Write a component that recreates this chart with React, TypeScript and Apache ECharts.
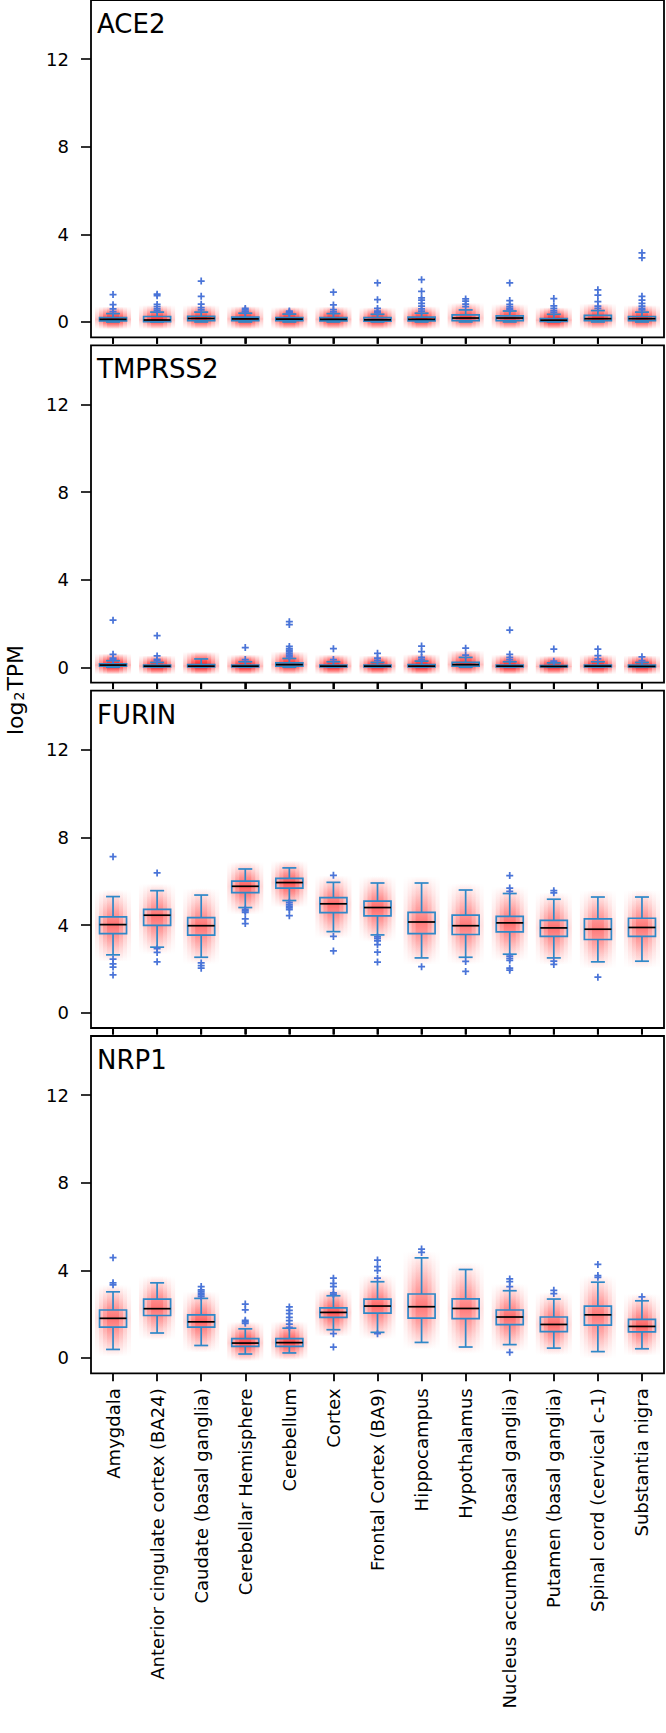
import React, { useEffect, useRef } from "react";
import * as echarts from "echarts";

const tissues = [
  "Amygdala",
  "Anterior cingulate cortex (BA24)",
  "Caudate (basal ganglia)",
  "Cerebellar Hemisphere",
  "Cerebellum",
  "Cortex",
  "Frontal Cortex (BA9)",
  "Hippocampus",
  "Hypothalamus",
  "Nucleus accumbens (basal ganglia)",
  "Putamen (basal ganglia)",
  "Spinal cord (cervical c-1)",
  "Substantia nigra",
];

const genes = ["ACE2", "TMPRSS2", "FURIN", "NRP1"];

const yTicks = [0, 4, 8, 12];
const yMin = -0.7;
const yMax = 14.7;

// box stats per tissue: [low whisker, Q1, median, Q3, high whisker]
const ace2Box = [
  [0.0, 0.05, 0.12, 0.2, 0.38],
  [0.0, 0.02, 0.09, 0.25, 0.45],
  [0.0, 0.06, 0.16, 0.26, 0.45],
  [0.0, 0.06, 0.14, 0.22, 0.4],
  [0.0, 0.06, 0.13, 0.2, 0.36],
  [0.0, 0.05, 0.12, 0.2, 0.38],
  [0.0, 0.04, 0.1, 0.2, 0.35],
  [0.0, 0.05, 0.12, 0.22, 0.4],
  [0.0, 0.06, 0.18, 0.32, 0.55],
  [0.0, 0.06, 0.18, 0.28, 0.5],
  [0.0, 0.03, 0.08, 0.15, 0.35],
  [0.0, 0.06, 0.15, 0.3, 0.52],
  [0.0, 0.06, 0.15, 0.25, 0.45],
];
const ace2Out = [
  [1.25, 0.79, 0.6, 0.47],
  [1.27, 1.2, 0.8, 0.7, 0.6, 0.52],
  [1.87, 1.17, 0.81, 0.66, 0.55],
  [0.62, 0.56, 0.5, 0.46],
  [0.5, 0.45, 0.41],
  [1.36, 0.78, 0.56, 0.46],
  [1.78, 1.02, 0.62, 0.5, 0.42],
  [1.93, 1.4, 1.1, 1.0, 0.85, 0.72, 0.6, 0.5],
  [1.05, 0.95, 0.82, 0.7],
  [1.78, 0.98, 0.8, 0.7, 0.62, 0.56],
  [1.07, 0.74, 0.62, 0.52, 0.44],
  [1.47, 1.22, 0.93, 0.72, 0.62],
  [3.16, 2.93, 1.17, 1.0, 0.85, 0.72, 0.62, 0.55],
];

const tmprss2Box = [
  [0.0, 0.05, 0.1, 0.16, 0.3],
  [0.0, 0.02, 0.05, 0.1, 0.22],
  [0.0, 0.02, 0.05, 0.12, 0.38],
  [0.0, 0.02, 0.05, 0.1, 0.25],
  [0.0, 0.05, 0.12, 0.2, 0.4],
  [0.0, 0.02, 0.05, 0.1, 0.25],
  [0.0, 0.02, 0.05, 0.1, 0.22],
  [0.0, 0.02, 0.05, 0.12, 0.28],
  [0.0, 0.05, 0.12, 0.22, 0.45],
  [0.0, 0.02, 0.05, 0.1, 0.25],
  [0.0, 0.02, 0.04, 0.08, 0.2],
  [0.0, 0.02, 0.05, 0.1, 0.25],
  [0.0, 0.02, 0.04, 0.1, 0.22],
];
const tmprss2Out = [
  [2.15, 0.59, 0.42, 0.35],
  [1.44, 0.52, 0.36, 0.3],
  [],
  [0.9, 0.35],
  [2.08, 1.95, 0.95, 0.85, 0.78, 0.7, 0.62, 0.55, 0.48],
  [0.85, 0.35],
  [0.64, 0.42, 0.32],
  [0.97, 0.71, 0.45, 0.36],
  [0.87, 0.55],
  [1.7, 0.59, 0.45, 0.35],
  [0.83, 0.28],
  [0.83, 0.53, 0.38],
  [0.48, 0.3],
];

const furinBox = [
  [2.64, 3.61, 4.02, 4.37, 5.3],
  [2.99, 3.99, 4.45, 4.72, 5.57],
  [2.53, 3.54, 3.97, 4.34, 5.37],
  [4.8, 5.48, 5.77, 6.01, 6.56],
  [5.12, 5.69, 5.94, 6.13, 6.61],
  [3.7, 4.57, 4.97, 5.25, 5.95],
  [3.55, 4.42, 4.8, 5.09, 5.92],
  [2.5, 3.61, 4.14, 4.58, 5.92],
  [2.53, 3.57, 3.97, 4.45, 5.6],
  [2.67, 3.69, 4.1, 4.4, 5.44],
  [2.5, 3.48, 3.87, 4.21, 5.18],
  [2.32, 3.34, 3.81, 4.28, 5.28],
  [2.35, 3.48, 3.89, 4.31, 5.28],
];
const furinOut = [
  [7.12, 2.45, 2.23, 2.08, 1.72],
  [6.38, 2.92, 2.75, 2.32],
  [2.27, 2.15, 2.03],
  [4.72, 4.65, 4.58, 4.28, 4.07],
  [5.04, 4.95, 4.86, 4.78, 4.71, 4.43],
  [6.27, 3.48, 2.82],
  [3.46, 3.38, 3.28, 3.11, 2.76, 2.31],
  [2.1],
  [2.34, 1.88],
  [6.26, 5.69, 5.54, 2.58, 2.48, 2.39, 2.03, 1.94],
  [5.57, 5.47, 2.35, 2.2],
  [1.62],
  [],
];

const nrp1Box = [
  [0.39, 1.41, 1.81, 2.19, 3.02],
  [1.14, 1.94, 2.25, 2.69, 3.43],
  [0.57, 1.41, 1.65, 1.97, 2.72],
  [0.18, 0.53, 0.68, 0.88, 1.33],
  [0.23, 0.53, 0.7, 0.88, 1.36],
  [1.29, 1.85, 2.08, 2.29, 2.84],
  [1.17, 2.05, 2.37, 2.69, 3.48],
  [0.71, 1.82, 2.34, 2.92, 4.57],
  [0.5, 1.8, 2.26, 2.7, 4.04],
  [0.61, 1.52, 1.87, 2.19, 3.07],
  [0.45, 1.2, 1.53, 1.87, 2.69],
  [0.29, 1.5, 1.97, 2.37, 3.46],
  [0.42, 1.19, 1.44, 1.76, 2.61],
];
const nrp1Out = [
  [4.58, 3.43, 3.34],
  [],
  [3.26, 3.11, 3.04, 2.96, 2.88, 2.8],
  [2.46, 2.2, 1.72, 1.65, 1.58],
  [2.33, 2.17, 2.02, 1.85, 1.7, 1.55, 1.4],
  [3.64, 3.41, 3.26, 2.97, 2.9, 1.11, 0.5],
  [4.47, 4.17, 3.99, 3.64, 1.11],
  [4.97, 4.82],
  [],
  [3.61, 3.49, 3.26, 0.26],
  [3.09, 2.94],
  [4.27, 3.76, 3.68],
  [2.79],
];

const boxSets = [ace2Box, tmprss2Box, furinBox, nrp1Box];
const outSets = [ace2Out, tmprss2Out, furinOut, nrp1Out];

const FONT = "DejaVu Sans";
const BOX_BLUE = "#2f88c8";
const OUT_BLUE = "#4a74d8";
const PLUS = "path://M3,0H5V3H8V5H5V8H3V5H0V3H3Z";

// vertical density gradient for the jittered-sample cloud, built from box stats
function columnGradient(top: number, bottom: number, yQ3: number, yMed: number, yQ1: number, a: number) {
  const h = Math.max(bottom - top, 1);
  const f = (v: number) => Math.min(1, Math.max(0, (v - top) / h));
  const c = (al: number) => `rgba(255,0,0,${Math.min(0.95, al).toFixed(3)})`;
  return {
    type: "linear",
    x: 0,
    y: 0,
    x2: 0,
    y2: 1,
    colorStops: [
      { offset: 0, color: c(0) },
      { offset: f(yQ3) * 0.5, color: c(a * 0.35) },
      { offset: f(yQ3), color: c(a * 0.75) },
      { offset: f(yMed), color: c(a) },
      { offset: f(yQ1), color: c(a * 0.75) },
      { offset: f(yQ1) + (1 - f(yQ1)) * 0.5, color: c(a * 0.35) },
      { offset: 1, color: c(0) },
    ],
  };
}

function makeRenderBox(withTick: boolean) {
  return function renderBox(params: any, api: any) {
    const k = api.value(0);
    const lo = api.value(1);
    const q1 = api.value(2);
    const med = api.value(3);
    const q3 = api.value(4);
    const hi = api.value(5);
    const y = (v: number) => api.coord([k, v])[1];
    const cx = api.coord([k, med])[0];
    const bw = 27;
    const cw = 14;
    const yLo = y(lo),
      yQ1 = y(q1),
      yMed = y(med),
      yQ3 = y(q3),
      yHi = y(hi);
    const yBottom = y(yMin);
    const iqrPx = Math.max(yQ1 - yQ3, 2);
    const dens = Math.min(2.6, Math.max(0.9, Math.sqrt(16 / iqrPx)));
    const top = yHi - 7;
    const bottom = yLo + 7;
    const layer = (w: number, a: number) => ({
      type: "rect",
      shape: { x: cx - w / 2, y: top, width: w, height: bottom - top },
      style: { fill: columnGradient(top, bottom, yQ3, yMed, yQ1, a) },
    });
    const line = (x1: number, y1: number, x2: number, y2: number, color: string, w = 1.7) => ({
      type: "line",
      shape: { x1, y1, x2, y2 },
      style: { stroke: color, lineWidth: w },
    });
    const children: any[] = [
      layer(36, 0.12 * dens),
      layer(28, 0.18 * dens),
      layer(20, 0.22 * dens),
      layer(12, 0.22 * dens),
      line(cx, yHi, cx, yQ3, BOX_BLUE),
      line(cx, yQ1, cx, yLo, BOX_BLUE),
      line(cx - cw / 2, yHi, cx + cw / 2, yHi, BOX_BLUE),
      line(cx - cw / 2, yLo, cx + cw / 2, yLo, BOX_BLUE),
      {
        type: "rect",
        shape: { x: cx - bw / 2, y: yQ3, width: bw, height: yQ1 - yQ3 },
        style: { fill: "none", stroke: BOX_BLUE, lineWidth: 1.7 },
      },
      line(cx - bw / 2, yMed, cx + bw / 2, yMed, "#000"),
    ];
    if (withTick) {
      // category tick below the panel (same spot as the axis tick)
      children.push(line(cx, yBottom, cx, yBottom + 6.5, "#000", 2));
    }
    return { type: "group", children };
  };
}

const PANEL_TOPS = [0, 345.3, 690.7, 1036];
const PANEL_H = 337.3;
const GRID_LEFT = 91;
const GRID_W = 573;

function buildOption() {
  const grid: any[] = [];
  const xAxis: any[] = [];
  const yAxis: any[] = [];
  const series: any[] = [];
  const graphic: any[] = [];

  genes.forEach((g, i) => {
    const last = i === genes.length - 1;
    grid.push({
      left: GRID_LEFT,
      top: PANEL_TOPS[i],
      width: GRID_W,
      height: PANEL_H,
      show: true,
      borderColor: "#000",
      borderWidth: 1.8,
      backgroundColor: "transparent",
    });
    xAxis.push({
      type: "category",
      gridIndex: i,
      data: tissues,
      boundaryGap: true,
      position: "bottom",
      axisLine: { show: false, onZero: false },
      axisTick: {
        show: true,
        alignWithLabel: true,
        interval: 0,
        length: last ? 8 : 6.5,
        lineStyle: { color: "#000", width: 1.8 },
      },
      axisLabel: {
        show: last,
        interval: 0,
        rotate: 90,
        fontSize: 18,
        fontFamily: FONT,
        color: "#000",
        margin: 15,
      },
      splitLine: { show: false },
    });
    yAxis.push({
      type: "value",
      gridIndex: i,
      min: yMin,
      max: yMax,
      axisLine: { show: false, onZero: false },
      axisTick: {
        show: true,
        length: 10,
        customValues: yTicks,
        lineStyle: { color: "#000", width: 1.6 },
      },
      axisLabel: {
        customValues: yTicks,
        fontSize: 18,
        fontFamily: FONT,
        color: "#000",
        margin: 22,
      },
      splitLine: { show: false },
    });
    series.push({
      type: "custom",
      xAxisIndex: i,
      yAxisIndex: i,
      data: boxSets[i].map((b, k) => [k, ...b]),
      encode: { x: 0, y: [1, 2, 3, 4, 5] },
      renderItem: makeRenderBox(!last),
      clip: false,
      silent: true,
      z: 3,
    });
    const outData: number[][] = [];
    outSets[i].forEach((arr, k) => arr.forEach((v) => outData.push([k, v])));
    series.push({
      type: "scatter",
      xAxisIndex: i,
      yAxisIndex: i,
      data: outData,
      symbol: PLUS,
      symbolSize: 7,
      itemStyle: { color: OUT_BLUE, opacity: 1 },
      silent: true,
      z: 5,
    });
    graphic.push({
      type: "text",
      x: 97,
      y: PANEL_TOPS[i] + 24,
      z: 10,
      style: {
        text: g,
        fontSize: 26,
        fontFamily: FONT,
        fill: "#000",
        verticalAlign: "middle",
        textVerticalAlign: "middle",
      },
    });
  });

  graphic.push({
    type: "text",
    x: 13,
    y: 690,
    rotation: Math.PI / 2,
    z: 10,
    style: {
      text: "{a|log}{b|2}{a|TPM}",
      fill: "#000",
      align: "center",
      verticalAlign: "middle",
      rich: {
        a: { fontSize: 22, fontFamily: FONT, fill: "#000", lineHeight: 26, verticalAlign: "bottom" },
        b: { fontSize: 14, fontFamily: FONT, fill: "#000", lineHeight: 14, verticalAlign: "bottom", padding: [0, 1, 0, 1] },
      },
    },
  });

  return {
    animation: false,
    backgroundColor: "#fff",
    textStyle: { fontFamily: FONT },
    grid,
    xAxis,
    yAxis,
    series,
    graphic,
  };
}

export default function App() {
  const ref = useRef<HTMLDivElement>(null);
  useEffect(() => {
    document.body.style.margin = "0";
    if (!ref.current) return;
    const chart = echarts.init(ref.current, undefined, { renderer: "svg" });
    chart.setOption(buildOption() as any);
    return () => chart.dispose();
  }, []);
  return <div ref={ref} style={{ width: 666, height: 1733 }} />;
}
